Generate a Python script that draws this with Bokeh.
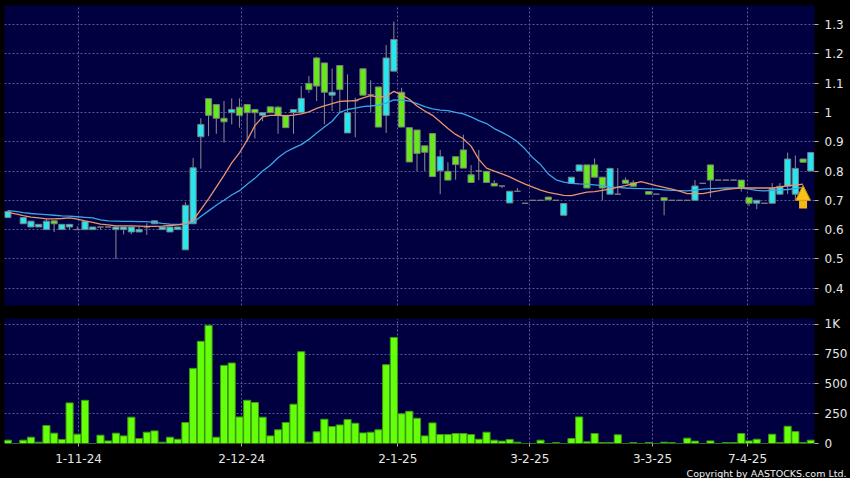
import math
from bokeh.plotting import figure
from bokeh.layouts import column
from bokeh.models import (Range1d, FixedTicker, CustomJSTickFormatter, ColumnDataSource,
                          Title, Arrow, NormalHead)
from bokeh.embed import file_html
from bokeh.resources import INLINE

nan = float("nan")

# ---------------- data ----------------
open_ = [0.641, nan, 0.620, 0.609, 0.609, 0.600, 0.630, 0.600, 0.609, 0.600,
         0.600, 0.600, 0.609, 0.609, 0.600, 0.600, 0.592, 0.592, 0.609, 0.620,
         0.600, 0.592, 0.600, 0.531, 0.620, 0.917, 1.047, 1.027, 0.980, 0.999,
         1.018, 1.027, 1.010, 0.990, 1.019, 1.018, 0.990, 0.999, 0.999, 1.099,
         1.186, 1.169, 1.059, 1.160, 0.930, 1.040, 1.149, 1.060, 1.087, 0.990,
         1.141, 1.069, 0.948, 0.940, 0.886, 0.928, 0.801, 0.799, 0.849, 0.872,
         0.787, 0.800, 0.799, 0.758, 0.749, 0.691, 0.731, 0.690, 0.700, 0.700,
         0.711, 0.700, 0.649, 0.758, 0.800, 0.821, 0.821, 0.779, 0.721, 0.721,
         0.769, 0.760, nan, 0.730, 0.721, 0.709, 0.700, 0.700, 0.700, 0.700,
         0.758, 0.821, 0.769, 0.769, 0.769, 0.769, 0.709, 0.690, 0.690, 0.690,
         0.721, 0.748, 0.721, 0.841, 0.800]
high = [0.665, nan, 0.641, 0.629, 0.618, 0.636, 0.630, 0.618, 0.618, 0.611,
        0.628, 0.609, 0.609, 0.609, 0.609, 0.609, 0.609, 0.611, 0.622, 0.630,
        0.609, 0.609, 0.609, 0.694, 0.845, 0.980, 1.047, 1.027, 1.039, 1.048,
        1.048, 1.027, 1.010, 0.999, 1.019, 1.022, 0.990, 1.010, 1.090, 1.124,
        1.190, 1.169, 1.150, 1.160, 1.130, 1.050, 1.149, 1.110, 1.087, 1.230,
        1.310, 1.084, 0.948, 0.940, 0.886, 0.928, 0.872, 0.830, 0.849, 0.924,
        0.820, 0.872, 0.799, 0.769, 0.749, 0.731, 0.742, 0.690, 0.700, 0.700,
        0.711, 0.700, 0.689, 0.779, 0.821, 0.821, 0.843, 0.779, 0.809, 0.810,
        0.778, 0.769, nan, 0.730, 0.721, 0.709, 0.700, 0.700, 0.700, 0.769,
        0.758, 0.821, 0.769, 0.769, 0.769, 0.769, 0.709, 0.700, 0.690, 0.759,
        0.759, 0.863, 0.853, 0.841, 0.863]
low = [0.641, nan, 0.620, 0.609, 0.609, 0.600, 0.592, 0.600, 0.600, 0.600,
       0.600, 0.600, 0.600, 0.609, 0.500, 0.584, 0.584, 0.592, 0.582, 0.620,
       0.600, 0.592, 0.600, 0.531, 0.620, 0.808, 0.919, 0.927, 0.897, 0.959,
       0.948, 0.900, 0.911, 0.970, 0.999, 0.927, 0.948, 0.927, 0.999, 1.067,
       1.039, 0.959, 1.005, 1.000, 0.930, 0.915, 1.059, 1.000, 0.950, 0.930,
       1.141, 0.950, 0.831, 0.800, 0.800, 0.781, 0.721, 0.769, 0.770, 0.810,
       0.761, 0.769, 0.761, 0.749, 0.742, 0.691, 0.731, 0.690, 0.700, 0.700,
       0.702, 0.700, 0.649, 0.758, 0.800, 0.742, 0.779, 0.700, 0.721, 0.721,
       0.758, 0.748, nan, 0.721, 0.721, 0.649, 0.700, 0.700, 0.700, 0.700,
       0.758, 0.710, 0.769, 0.769, 0.769, 0.730, 0.680, 0.670, 0.690, 0.690,
       0.721, 0.721, 0.700, 0.830, 0.800]
close = [0.662, nan, 0.641, 0.629, 0.618, 0.629, 0.620, 0.618, 0.618, 0.600,
         0.628, 0.609, 0.609, 0.609, 0.609, 0.609, 0.609, 0.600, 0.609, 0.630,
         0.609, 0.609, 0.609, 0.683, 0.811, 0.959, 0.990, 0.980, 0.968, 1.010,
         0.990, 0.999, 0.999, 0.999, 0.999, 0.990, 0.948, 1.010, 1.048, 1.078,
         1.090, 1.069, 1.069, 1.078, 0.999, 1.040, 1.059, 1.060, 0.950, 1.186,
         1.249, 0.950, 0.831, 0.860, 0.864, 0.781, 0.849, 0.769, 0.822, 0.810,
         0.761, 0.800, 0.761, 0.749, 0.749, 0.731, 0.731, 0.690, 0.700, 0.700,
         0.702, 0.700, 0.689, 0.779, 0.821, 0.742, 0.779, 0.742, 0.809, 0.721,
         0.758, 0.748, nan, 0.721, 0.721, 0.700, 0.700, 0.700, 0.700, 0.749,
         0.758, 0.769, 0.769, 0.769, 0.769, 0.744, 0.690, 0.700, 0.690, 0.740,
         0.748, 0.841, 0.809, 0.830, 0.863]
volume = [28, 0, 28, 53, 11, 151, 87, 34, 341, 78,
          363, 0, 70, 22, 87, 64, 221, 42, 95, 106,
          11, 53, 36, 176, 631, 858, 992, 53, 656, 676,
          223, 363, 344, 221, 64, 115, 176, 330, 771, 11,
          98, 204, 142, 156, 201, 170, 89, 95, 115, 662,
          891, 249, 271, 212, 64, 173, 75, 75, 84, 84,
          75, 36, 95, 28, 20, 34, 11, 0, 0, 28,
          0, 8, 0, 42, 223, 14, 84, 8, 8, 73,
          0, 8, 0, 8, 0, 11, 8, 0, 45, 20,
          0, 22, 0, 8, 8, 84, 22, 36, 0, 78,
          8, 145, 100, 8, 28]
ma10 = [0.659, 0.654, 0.648, 0.643, 0.640, 0.637, 0.637, 0.638, 0.640, 0.636,
        0.630, 0.625, 0.619, 0.616, 0.613, 0.613, 0.613, 0.612, 0.611, 0.611,
        0.612, 0.614, 0.616, 0.620, 0.632, 0.668, 0.705, 0.745, 0.785, 0.828,
        0.862, 0.905, 0.955, 0.985, 0.990, 0.990, 0.988, 0.991, 0.995, 1.002,
        1.014, 1.022, 1.030, 1.038, 1.039, 1.040, 1.050, 1.057, 1.052, 1.055,
        1.072, 1.060, 1.045, 1.022, 1.005, 0.990, 0.968, 0.945, 0.925, 0.910,
        0.885, 0.840, 0.810, 0.800, 0.790, 0.780, 0.767, 0.755, 0.745, 0.735,
        0.727, 0.722, 0.717, 0.716, 0.722, 0.728, 0.730, 0.734, 0.738, 0.745,
        0.750, 0.757, 0.764, 0.757, 0.750, 0.744, 0.738, 0.731, 0.723, 0.723,
        0.723, 0.728, 0.732, 0.737, 0.740, 0.742, 0.742, 0.742, 0.742, 0.742,
        0.745, 0.750, 0.752, 0.755]
ma20 = [0.665, 0.662, 0.658, 0.655, 0.653, 0.651, 0.649, 0.647, 0.646, 0.644,
        0.642, 0.640, 0.633, 0.630, 0.629, 0.628, 0.628, 0.627, 0.627, 0.625,
        0.621, 0.619, 0.618, 0.618, 0.624, 0.645, 0.664, 0.683, 0.700, 0.718,
        0.733, 0.755, 0.775, 0.800, 0.820, 0.845, 0.865, 0.878, 0.890, 0.908,
        0.930, 0.950, 0.970, 1.000, 1.010, 1.015, 1.020, 1.022, 1.025, 1.032,
        1.043, 1.042, 1.039, 1.030, 1.020, 1.012, 1.008, 1.006, 1.000, 0.995,
        0.985, 0.972, 0.962, 0.945, 0.932, 0.918, 0.900, 0.875, 0.845, 0.822,
        0.790, 0.770, 0.762, 0.758, 0.756, 0.755, 0.753, 0.750, 0.745, 0.744,
        0.742, 0.741, 0.740, 0.739, 0.738, 0.736, 0.734, 0.733, 0.732, 0.735,
        0.738, 0.740, 0.741, 0.742, 0.742, 0.742, 0.738, 0.734, 0.732, 0.734,
        0.735, 0.737, 0.740, 0.744]
date_tick_labels = ["1-11-24", "2-12-24", "2-1-25", "3-2-25", "3-3-25", "7-4-25"]
date_tick_index = [9.16, 30.3, 50.5, 67.6, 83.5, 95.8]
price_ticks = [0.4, 0.5, 0.6, 0.7, 0.8, 0.9, 1.0, 1.1, 1.2, 1.3]
volume_ticks = [0, 250, 500, 750, 1000]

# ---------------- styling ----------------
BG = "#000040"
GRID = "#5a5a96"
TXT = "#e6e6e6"
CYAN = "#28e6f0"
GREEN = "#66e81c"
VOLG = "#66ff0a"
WICK = "#8c8c8c"
FONT = "DejaVu Sans"

n = len(close)
xs = list(range(n))
top = [max(o, c) if not math.isnan(o) else nan for o, c in zip(open_, close)]
bot = [min(o, c) if not math.isnan(o) else nan for o, c in zip(open_, close)]
col = [CYAN if (not math.isnan(o) and c > o) else GREEN for o, c in zip(open_, close)]
src = ColumnDataSource(dict(x=xs, h=high, l=low, top=top, bot=bot, col=col, vol=volume))

XR = (-0.43, 104.48)
RB = 33
W = 850

def style(p):
    p.background_fill_color = BG
    p.border_fill_color = "black"
    p.outline_line_color = None
    p.grid.grid_line_color = GRID
    p.grid.grid_line_dash = "2 2"
    p.grid.grid_line_width = 1
    for ax in p.yaxis:
        ax.axis_line_color = None
        ax.major_tick_line_color = "#b0b0b0"
        ax.major_tick_out = 4
        ax.major_tick_in = 0
        ax.minor_tick_line_color = None
        ax.major_label_text_color = TXT
        ax.major_label_text_font = FONT
        ax.major_label_text_font_size = "12px"
        ax.major_label_standoff = 6

# price figure
p1 = figure(width=W, height=313, x_range=Range1d(*XR), y_range=Range1d(0.341, 1.365),
            output_backend="svg", toolbar_location=None, x_axis_location=None,
            y_axis_location="right", min_border_left=4, min_border_right=RB,
            min_border_top=5, min_border_bottom=8)
style(p1)
p1.yaxis.ticker = FixedTicker(ticks=price_ticks)
p1.yaxis.formatter = CustomJSTickFormatter(
    code="return Math.abs(tick - 1) < 1e-9 ? '1' : tick.toFixed(1);")
p1.xgrid.ticker = FixedTicker(ticks=date_tick_index)

p1.segment(x0="x", y0="h", x1="x", y1="l", source=src, line_color=WICK, line_width=1)
p1.vbar(x="x", width=0.8, top="top", bottom="bot", source=src, fill_color="col",
        line_color="#7c7c7c", line_width=1)
p1.line(list(range(len(ma20))), ma20, line_color="#3aa6e6", line_width=1.3)
p1.line(list(range(len(ma10))), ma10, line_color="#e8946c", line_width=1.3)

arrow_x = len(ma10) - 1
p1.add_layout(Arrow(end=NormalHead(size=15, fill_color="#f7c21a", line_color="#c98f00"),
                    x_start=arrow_x, y_start=0.672, x_end=arrow_x, y_end=ma10[-1] - 0.004,
                    line_color="#f0b818", line_width=8))

# volume figure
p2 = figure(width=W, height=165, x_range=p1.x_range, y_range=Range1d(0, 1050),
            output_backend="svg", toolbar_location=None, y_axis_location="right",
            min_border_left=4, min_border_right=RB, min_border_top=5, min_border_bottom=0)
style(p2)
p2.yaxis.ticker = FixedTicker(ticks=volume_ticks)
p2.yaxis.formatter = CustomJSTickFormatter(
    code="return tick >= 1000 ? (tick / 1000) + 'K' : tick.toFixed(0);")
p2.xaxis.ticker = FixedTicker(ticks=date_tick_index)
p2.xgrid.ticker = FixedTicker(ticks=date_tick_index)
p2.xaxis.formatter = CustomJSTickFormatter(
    args=dict(pos=date_tick_index, lab=date_tick_labels),
    code="for (let k = 0; k < pos.length; k++) { if (Math.abs(pos[k] - tick) < 1e-6) return lab[k]; } return '';")
xa = p2.xaxis[0]
xa.axis_line_color = None
xa.major_tick_line_color = "#b0b0b0"
xa.major_tick_out = 3
xa.major_tick_in = 0
xa.minor_tick_line_color = None
xa.major_label_text_color = TXT
xa.major_label_text_font = FONT
xa.major_label_text_font_size = "12px"
xa.major_label_standoff = 7

p2.vbar(x="x", width=0.92, top="vol", bottom=0, source=src, fill_color=VOLG,
        line_color="#3c9a10", line_width=1)

p2.add_layout(Title(text="Copyright by AASTOCKS.com Ltd.", align="right",
                    text_color="#f0f0f0", text_font=FONT, text_font_size="9.5px",
                    text_font_style="normal", standoff=0, offset=-32), "below")

layout = column(p1, p2, spacing=0)
layout.styles = {"background-color": "black"}

open("out.html", "w").write(file_html(layout, INLINE))
